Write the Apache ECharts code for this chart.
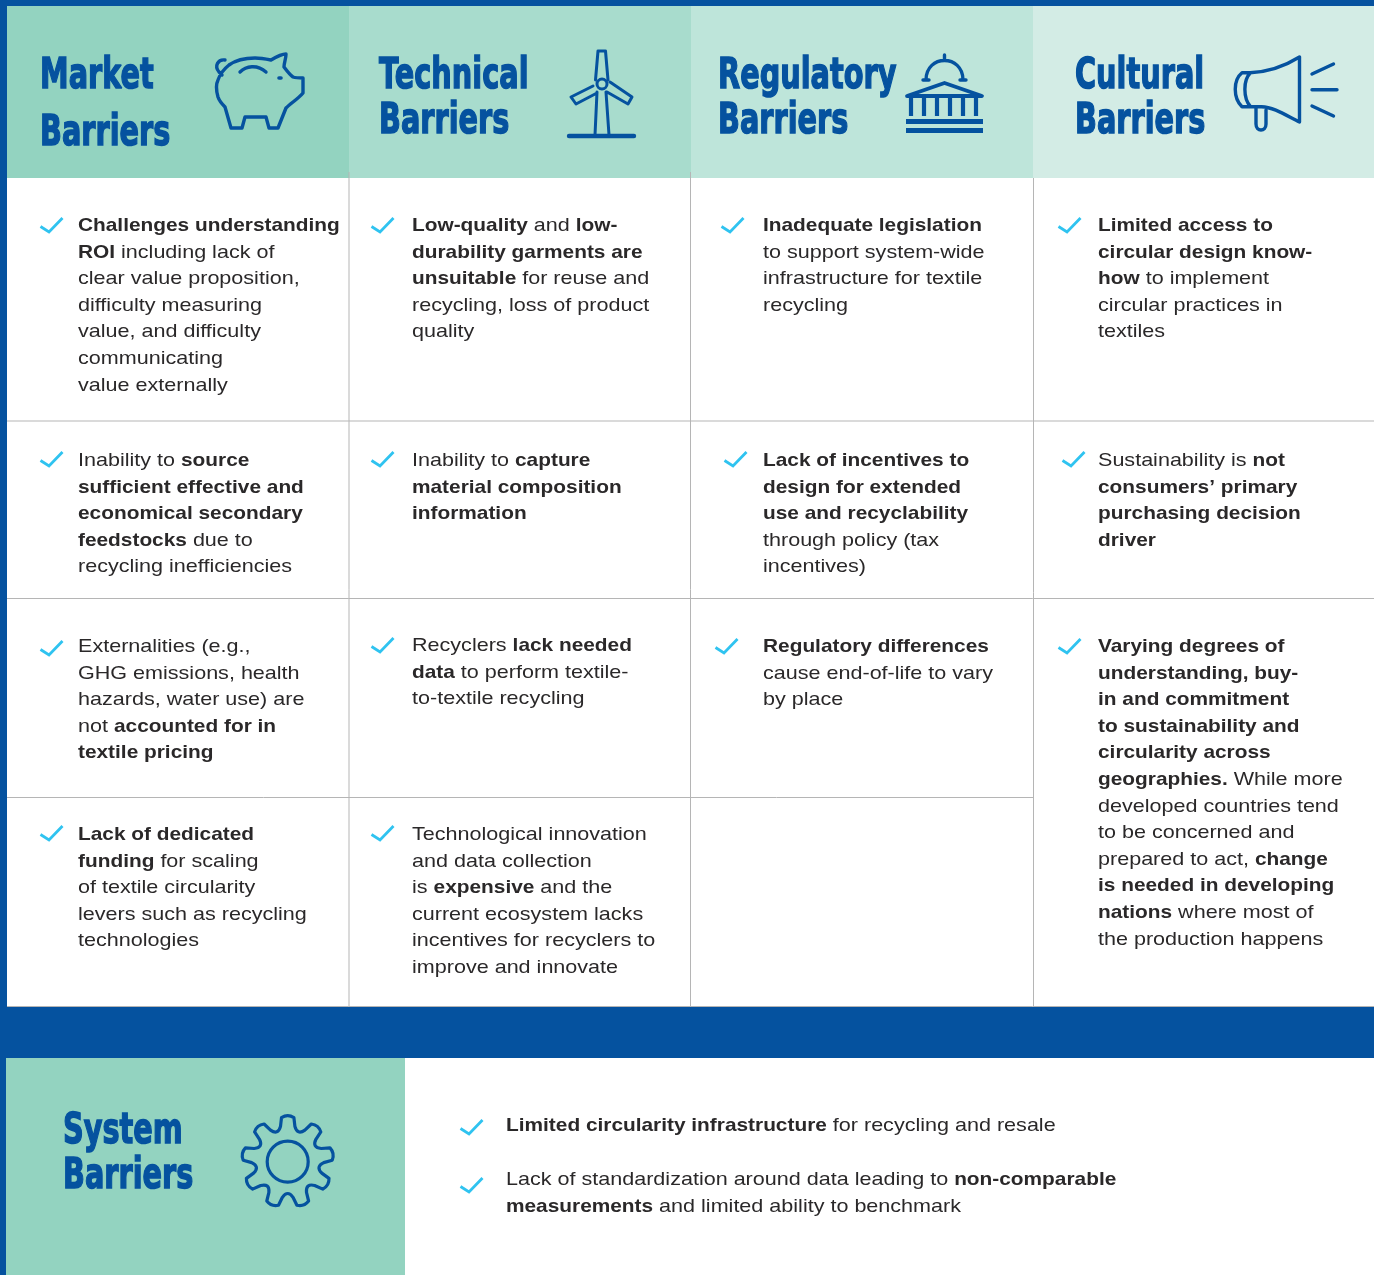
<!DOCTYPE html>
<html>
<head>
<meta charset="utf-8">
<title>Barriers</title>
<style>
  html, body { margin: 0; padding: 0; background: #fff; }
  #chart { width: 1374px; height: 1275px; }
</style>
</head>
<body>
<div id="chart"></div>
<script src="https://cdn.jsdelivr.net/npm/echarts@6/dist/echarts.min.js"></script>
<script>
// table content, one string per printed line, {b|...} is the bold part
const headerTitles = [
  ["Market", "Barriers"],
  ["Technical", "Barriers"],
  ["Regulatory", "Barriers"],
  ["Cultural", "Barriers"],
];
const systemTitle = ["System", "Barriers"];

const marketCells = [
  ["{b|Challenges understanding}", "{b|ROI} including lack of", "clear value proposition,", "difficulty measuring", "value, and difficulty", "communicating", "value externally"],
  ["Inability to {b|source}", "{b|sufficient effective and}", "{b|economical secondary}", "{b|feedstocks} due to", "recycling inefficiencies"],
  ["Externalities (e.g.,", "GHG emissions, health", "hazards, water use) are", "not {b|accounted for in}", "{b|textile pricing}"],
  ["{b|Lack of dedicated}", "{b|funding} for scaling", "of textile circularity", "levers such as recycling", "technologies"],
];
const technicalCells = [
  ["{b|Low-quality} and {b|low-}", "{b|durability garments are}", "{b|unsuitable} for reuse and", "recycling, loss of product", "quality"],
  ["Inability to {b|capture}", "{b|material composition}", "{b|information}"],
  ["Recyclers {b|lack needed}", "{b|data} to perform textile-", "to-textile recycling"],
  ["Technological innovation", "and data collection", "is {b|expensive} and the", "current ecosystem lacks", "incentives for recyclers to", "improve and innovate"],
];
const regulatoryCells = [
  ["{b|Inadequate legislation}", "to support system-wide", "infrastructure for textile", "recycling"],
  ["{b|Lack of incentives to}", "{b|design for extended}", "{b|use and recyclability}", "through policy (tax", "incentives)"],
  ["{b|Regulatory differences}", "cause end-of-life to vary", "by place"],
];
const culturalCells = [
  ["{b|Limited access to}", "{b|circular design know-}", "{b|how} to implement", "circular practices in", "textiles"],
  ["Sustainability is {b|not}", "{b|consumers\u2019 primary}", "{b|purchasing decision}", "{b|driver}"],
  ["{b|Varying degrees of}", "{b|understanding, buy-}", "{b|in and commitment}", "{b|to sustainability and}", "{b|circularity across}", "{b|geographies.} While more", "developed countries tend", "to be concerned and", "prepared to act, {b|change}", "{b|is needed in developing}", "{b|nations} where most of", "the production happens"],
];
const systemItems = [
  ["{b|Limited circularity infrastructure} for recycling and resale"],
  ["Lack of standardization around data leading to {b|non-comparable}", "{b|measurements} and limited ability to benchmark"],
];

// layout
const BLUE = "#05529f";
const DARK = "#2a2829";
const CHECK = "#2fc3f0";
const RULE = "#b5b5b5";
const BODY_FONT = "Liberation Sans";
const TITLE_FONT = "DejaVu Sans";
const LINE_H = 26.6;

const columns = [
  { x0: 7, x1: 349, fill: "#93d3c0", textX: 78, cells: marketCells, titleX: 40, titleY: [77, 134],
    textY: [225, 460, 646, 834], checkX: [40, 40, 40, 40], checkY: [226, 460, 649, 834] },
  { x0: 349, x1: 691, fill: "#a8dccd", textX: 412, cells: technicalCells, titleX: 379, titleY: [77, 122],
    textY: [225, 460, 645, 834], checkX: [371, 371, 371, 371], checkY: [226, 460, 646, 834] },
  { x0: 691, x1: 1033, fill: "#bee5da", textX: 763, cells: regulatoryCells, titleX: 718, titleY: [77, 122],
    textY: [225, 460, 646], checkX: [721, 724, 715], checkY: [226, 460, 647] },
  { x0: 1033, x1: 1374, fill: "#d3ece5", textX: 1098, cells: culturalCells, titleX: 1075, titleY: [77, 122],
    textY: [225, 460, 646], checkX: [1058, 1062, 1058], checkY: [226, 460, 647] },
];

function rect(x, y, w, h, fill) {
  return { type: "rect", shape: { x: x, y: y, width: w, height: h }, style: { fill: fill } };
}
function rule(x1, y1, x2, y2) {
  return { type: "line", shape: { x1: x1, y1: y1, x2: x2, y2: y2 }, style: { stroke: RULE, lineWidth: 1 } };
}
let iconCount = 0;
function icon(d, opts) {
  const name = "icon" + iconCount++;
  echarts.graphic.registerShape(name, echarts.graphic.extendPath(d, {}));
  return {
    type: name,
    style: Object.assign({ fill: "none", stroke: BLUE, lineWidth: 3.4, lineCap: "round", lineJoin: "round" }, opts || {}),
  };
}
function titleText(str, x, y) {
  return {
    type: "text", x: x, y: y, scaleX: 0.685,
    style: { text: str, fontFamily: TITLE_FONT, fontWeight: "bold", fontSize: 42, fill: BLUE,
      stroke: BLUE, lineWidth: 1.5, verticalAlign: "middle", align: "left" },
  };
}
function bodyLine(str, x, y) {
  return {
    type: "text", x: x, y: y + 1, scaleX: 1.165,
    style: {
      text: str, fontFamily: BODY_FONT, fontSize: 18.5, fill: DARK, verticalAlign: "middle", align: "left",
      rich: { b: { fontFamily: BODY_FONT, fontSize: 17.9, fontWeight: "bold", fill: DARK } },
    },
  };
}
function checkMark(x, y) {
  return {
    type: "polyline",
    shape: { points: [[x + 0.5, y + 0.5], [x + 9, y + 6], [x + 22.5, y - 8]] },
    style: { fill: "none", stroke: CHECK, lineWidth: 2.8 },
  };
}

const elements = [];
elements.push(rect(0, 0, 1374, 1275, "#ffffff"));
elements.push(rect(0, 0, 1374, 6, BLUE));
elements.push(rect(0, 0, 7, 1058, BLUE));
elements.push(rect(0, 1007, 1374, 51, BLUE));
elements.push(rect(0, 1058, 6, 217, BLUE));
elements.push(rect(6, 1058, 399, 217, "#93d3c0"));

columns.forEach(function (col) {
  elements.push(rect(col.x0, 6, col.x1 - col.x0, 172, col.fill));
});

// grid rules
elements.push(rule(349, 172, 349, 1007));
elements.push(rule(690.5, 172, 690.5, 1007));
elements.push(rule(1033.5, 178, 1033.5, 1007));
elements.push(rule(7, 421, 1374, 421));
elements.push(rule(7, 598.5, 1374, 598.5));
elements.push(rule(7, 797.5, 1033, 797.5));
elements.push(rule(7, 1006.5, 1374, 1006.5));

columns.forEach(function (col, c) {
  headerTitles[c].forEach(function (t, i) {
    elements.push(titleText(t, col.titleX, col.titleY[i]));
  });
  col.cells.forEach(function (lines, r) {
    elements.push(checkMark(col.checkX[r], col.checkY[r]));
    lines.forEach(function (l, i) {
      elements.push(bodyLine(l, col.textX, col.textY[r] + i * LINE_H));
    });
  });
});

// system row
systemTitle.forEach(function (t, i) {
  elements.push(titleText(t, 63, [1132, 1177][i]));
});
[[1125, 1128], [1179, 1186]].forEach(function (pos, r) {
  elements.push(checkMark(460, pos[1]));
  systemItems[r].forEach(function (l, i) {
    elements.push(bodyLine(l, 506, pos[0] + i * LINE_H));
  });
});

// piggy bank
elements.push(icon("M225,60 C218,59 214,66 219,72 L222,75 M229,65 C236,60 246,58 255,58 C261,58 266,59 271,60 C276,57 281,54 286,54 C286,59 284,63 284,67 C287,71 290,75 293,77 C296,78 300,78 303,78 L303,93 C298,99 291,103 286,108 L278,128 L269,128 L266,117 L245,117 L242,128 L231,128 L225,107 C221,103 219,100 218,97 C216,90 216,84 218,80 C220,74 224,69 229,65 Z M240,72 C246,66 257,64 266,72"));
elements.push(icon("M279,78 L281,78", { lineWidth: 3.6 }));
// wind turbine
elements.push(icon("M569,136 L634,136", { lineWidth: 4.4 }));
elements.push(icon("M595,135 L597,92 M609,135 L606,92 M595.5,80 L598,51 L605.5,51 L608,80 M593,86 L571,97 L576,104 L597,93 M610,82 L632,97 L628,104 L607,92", { lineWidth: 3 }));
elements.push({ type: "circle", shape: { cx: 602, cy: 84, r: 5 }, style: { fill: "none", stroke: BLUE, lineWidth: 3 } });
// capitol
elements.push(icon("M926,80 C926,54 963,54 963,80 M923,80 L929,80 M960,80 L966,80 M944.5,55 L944.5,60", { lineWidth: 3.4 }));
elements.push(icon("M907,96 L944.5,83 L982,96 Z", { lineWidth: 3.8 }));
[911, 924, 937, 950, 963, 976].forEach(function (x) {
  elements.push(rect(x - 2.1, 97, 4.2, 19, BLUE));
});
elements.push(rect(906, 119, 77, 5, BLUE));
elements.push(rect(906, 128, 77, 5, BLUE));
// megaphone
elements.push(icon("M1299.5,57 L1299.5,122 C1287,116 1274,107 1261.5,106.7 L1242,106.7 C1233,98 1233,80 1242,72.7 L1250,72.7 C1268,72 1285,66 1299.5,57 Z M1250.5,72.7 C1243,80 1243,98 1250.5,106.7 M1256,107 L1256,124 C1256,132 1266,132 1266,124 L1266,110 M1312,74 L1333.5,64 M1312,89.7 L1337,89.7 M1312,106 L1333.5,116"));
// gear, nine teeth round the ring
const gearCx = 287.7, gearCy = 1161.7;
let gearPath = "";
for (let k = 0; k < 9; k++) {
  const a = -Math.PI / 2 + k * (2 * Math.PI / 9);
  const pt = function (da, r) {
    return (gearCx + r * Math.cos(a + da)).toFixed(1) + "," + (gearCy + r * Math.sin(a + da)).toFixed(1);
  };
  gearPath += (k === 0 ? "M" : "L") + pt(-0.2, 36) + " L" + pt(-0.14, 44.5) + " Q" + pt(0, 48) + " " + pt(0.14, 44.5) + " L" + pt(0.2, 36) + " Q" + pt(0.349, 28) + " " + pt(0.498, 36) + " ";
}
elements.push(icon(gearPath + "Z", { lineWidth: 3.2 }));
elements.push({ type: "circle", shape: { cx: gearCx, cy: gearCy, r: 20.5 }, style: { fill: "none", stroke: BLUE, lineWidth: 3.2 } });

const chart = echarts.init(document.getElementById("chart"));
chart.setOption({
  backgroundColor: "#fff",
  animation: false,
  graphic: { elements: elements },
});
</script>
</body>
</html>
